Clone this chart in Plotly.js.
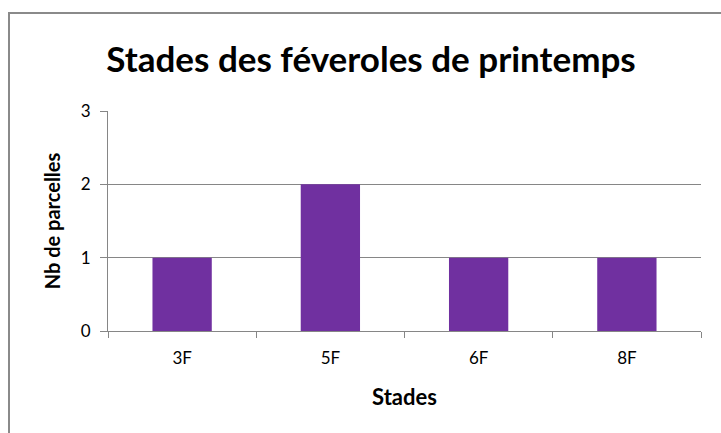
<!DOCTYPE html>
<html>
<head>
<meta charset="utf-8">
<script src="https://cdn.plot.ly/plotly-3.0.1.min.js"></script>
<style>
html,body{margin:0;padding:0;background:#fff;overflow:hidden;}
#wrap{position:relative;width:721px;height:433px;overflow:hidden;}
#chart{position:absolute;left:0;top:0;width:721px;height:433px;z-index:1;}
#frame{position:absolute;left:8px;top:12px;width:800px;height:600px;border-left:2px solid #8a8a8a;border-top:2px solid #8a8a8a;pointer-events:none;box-sizing:border-box;z-index:5;}
</style>
</head>
<body>
<div id="wrap">
<div id="chart"></div>
<div id="frame"></div>
</div>
<script>
const categories = ["3F", "5F", "6F", "8F"];
const values = [1, 2, 1, 1];
const yTicks = [0, 1, 2, 3];

const W = 721, H = 433;
const m = {l: 108, r: 20, t: 111, b: 102};
const font = "Lato, 'Open Sans', sans-serif";
const grid = "#868686";

const trace = {
  type: "bar",
  x: categories,
  y: values,
  marker: {color: "#7030A0"},
  hoverinfo: "x+y"
};

const layout = {
  width: W, height: H,
  margin: m,
  paper_bgcolor: "rgba(0,0,0,0)",
  plot_bgcolor: "#fff",
  bargap: 0.6,
  showlegend: false,
  font: {family: font, color: "#000"},
  title: {
    text: "<b>Stades des féveroles de printemps</b>",
    font: {size: 35, family: font, color: "#000"},
    x: 371 / W, xanchor: "center", xref: "container",
    y: 1 - 60 / H, yanchor: "middle", yref: "container"
  },
  xaxis: {
    type: "category",
    tickson: "boundaries",
    ticks: "outside", ticklen: 6, tickcolor: grid, tickwidth: 1,
    showline: true, linecolor: grid, linewidth: 1,
    showgrid: false,
    tickfont: {size: 17, family: font},
    ticklabelstandoff: 12,
    title: {text: "<b>Stades</b>", font: {size: 22, family: font}, standoff: 22},
    fixedrange: true
  },
  yaxis: {
    range: [0, 3],
    tickvals: yTicks,
    ticks: "outside", ticklen: 7, tickcolor: grid, tickwidth: 1,
    showline: true, linecolor: grid, linewidth: 1,
    showgrid: true, gridcolor: grid, gridwidth: 1,
    zeroline: false,
    tickfont: {size: 17, family: font},
    ticklabelstandoff: 6,
    title: {text: "<b>Nb de parcelles</b>", font: {size: 20, family: font}, standoff: 14},
    fixedrange: true
  }
};

Plotly.newPlot("chart", [trace], layout, {displayModeBar: false, staticPlot: true});
</script>
</body>
</html>
